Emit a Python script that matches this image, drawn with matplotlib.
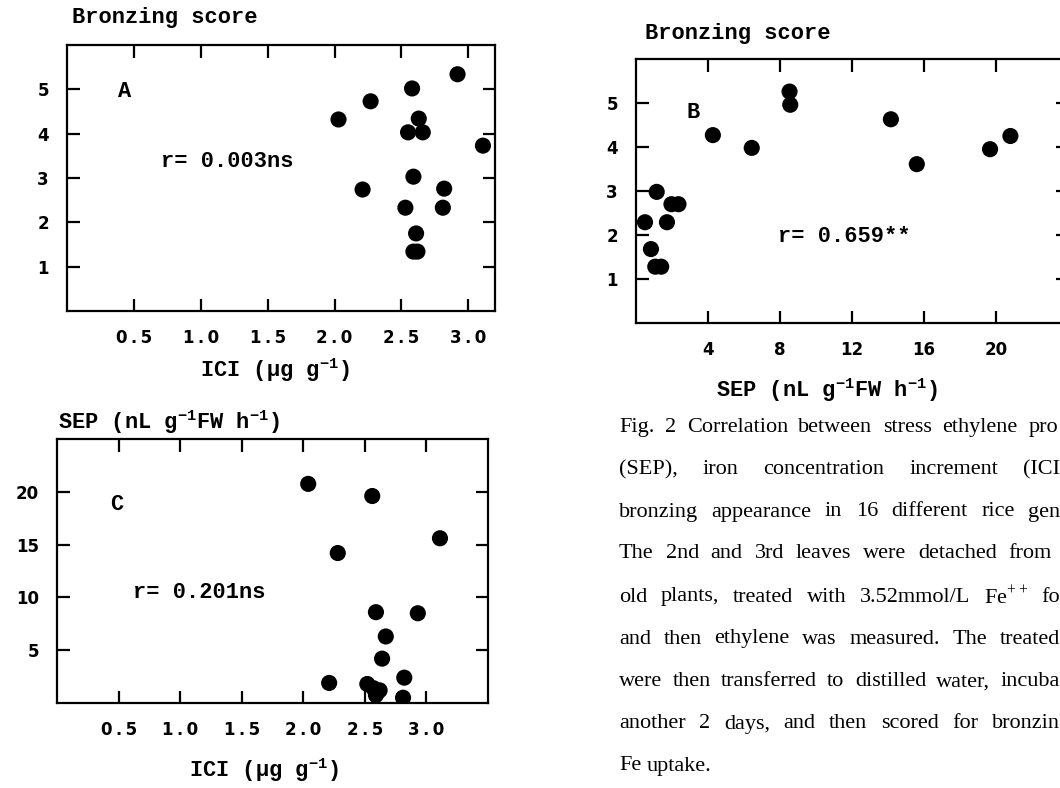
import matplotlib
matplotlib.use("Agg")
import matplotlib.pyplot as plt

# ── Data ─────────────────────────────────────────────────────────────────────
# A: bronzing score vs ICI
ici_a = [2.03, 2.27, 2.58, 2.92, 2.63, 2.55, 2.66, 3.11, 2.21, 2.59, 2.82, 2.53, 2.81, 2.61, 2.59, 2.62]
score_a = [4.32, 4.73, 5.02, 5.34, 4.34, 4.03, 4.03, 3.73, 2.74, 3.03, 2.76, 2.33, 2.33, 1.75, 1.34, 1.34]

# B: bronzing score vs SEP
sep_b = [0.5, 0.83, 1.07, 1.4, 1.15, 1.72, 1.97, 2.36, 4.27, 6.43, 8.53, 8.57, 14.16, 15.6, 19.67, 20.8]
score_b = [2.29, 1.68, 1.28, 1.28, 2.98, 2.29, 2.70, 2.70, 4.27, 3.98, 5.26, 4.96, 4.63, 3.61, 3.95, 4.25]

# C: SEP vs ICI
ici_c = [2.04, 2.56, 3.11, 2.28, 2.59, 2.93, 2.67, 2.64, 2.21, 2.82, 2.52, 2.57, 2.60, 2.59, 2.81, 2.62]
sep_c = [20.75, 19.6, 15.6, 14.2, 8.6, 8.5, 6.3, 4.2, 1.9, 2.4, 1.8, 1.4, 1.0, 0.75, 0.5, 1.2]

ici_ticks = [0.5, 1.0, 1.5, 2.0, 2.5, 3.0]
ici_ticklabels = ["0.5", "1.0", "1.5", "2.0", "2.5", "3.0"]
score_ticks = [1, 2, 3, 4, 5]
sep_ticks_b = [4, 8, 12, 16, 20]
sep_ticks_c = [5, 10, 15, 20]

caption_lines = [
    "Fig. 2  Correlation between stress ethylene pro",
    "(SEP), iron concentration increment (ICI",
    "bronzing appearance in 16 different rice gen",
    "The 2nd and 3rd leaves were detached from",
    "old plants, treated with 3.52mmol/L Fe$^{\\mathsf{++}}$ fo",
    "and then ethylene was measured. The treated",
    "were then transferred to distilled water, incuba",
    "another 2 days, and then scored for bronzin",
    "Fe uptake.",
]

# ── Style ────────────────────────────────────────────────────────────────────
plt.rcParams["mathtext.fontset"] = "custom"
plt.rcParams["mathtext.rm"] = "Liberation Mono:bold"
plt.rcParams["mathtext.sf"] = "Liberation Serif"

W, H = 1060, 788
fig = plt.figure(figsize=(W / 100, H / 100), dpi=100)

mono = dict(family="Liberation Mono", weight="bold", fontsize=15.8)
tickfont = dict(family="DejaVu Sans", weight="bold", size=12)


def spaced(s):
    return "\u2009".join(s)


def px_axes(left, top, right, bottom):
    return fig.add_axes([left / W, 1 - bottom / H, (right - left) / W, (bottom - top) / H])


def style(ax, xlim, ylim, xticks, yticks, xlabels=None):
    ax.set_xlim(*xlim)
    ax.set_ylim(*ylim)
    ax.set_xticks(xticks)
    ax.set_yticks(yticks)
    ax.set_xticklabels(xlabels if xlabels else [str(t) for t in xticks], **tickfont)
    ax.set_yticklabels([str(t) for t in yticks], **tickfont)
    ax.tick_params(direction="in", length=9, width=1.6, top=True, right=True, pad=13)
    for s in ax.spines.values():
        s.set_linewidth(1.6)


def ftext(x, y, s, **kw):
    return fig.text(x / W, 1 - y / H, s, **kw)


dot = dict(s=135, c="black", edgecolors="none", zorder=3)

# A
axA = px_axes(67, 45, 495, 311)
axA.scatter(ici_a, score_a, **dot)
style(axA, (0, 3.2), (0, 6), ici_ticks, score_ticks, [spaced(l) for l in ici_ticklabels])
axA.text(0.38, 4.95, "A", va="center", **mono)
axA.text(0.70, 3.37, "r= 0.003ns", va="center", **mono)
ftext(72, 18, "Bronzing score", va="center", **mono)
ftext(275, 370, "ICI (\u00b5g g$^{-1}$)", va="center", ha="center", **mono)

# B
axB = px_axes(636, 59, 1068, 323)
axB.scatter(sep_b, score_b, **dot)
style(axB, (0, 24), (0, 6), sep_ticks_b, score_ticks)
axB.text(2.8, 4.78, "B", va="center", **mono)
axB.text(7.9, 1.97, "r= 0.659**", va="center", **mono)
ftext(645, 33, "Bronzing score", va="center", **mono)
ftext(827, 390, "SEP (nL g$^{-1}$FW h$^{-1}$)", va="center", ha="center", **mono)

# C
axC = px_axes(57, 439, 488, 703)
axC.scatter(ici_c, sep_c, **dot)
style(axC, (0, 3.5), (0, 25), ici_ticks, sep_ticks_c, [spaced(l) for l in ici_ticklabels])
axC.text(0.43, 18.75, "C", va="center", **mono)
axC.text(0.62, 10.5, "r= 0.201ns", va="center", **mono)
ftext(58, 422, "SEP (nL g$^{-1}$FW h$^{-1}$)", va="center", **mono)
ftext(264, 770, "ICI (\u00b5g g$^{-1}$)", va="center", ha="center", **mono)

# ── Caption, justified word by word ─────────────────────────────────────────
serif = dict(family="Liberation Serif", fontsize=16, va="center", ha="left")
renderer = fig.canvas.get_renderer()
line_y = [427, 470, 512, 554, 597, 639, 682, 724, 766]
line_right = [1058, 1060, 1060, 1052, 1060, 1060, 1060, 1060, None]
x_left = 619
for text, y, right in zip(caption_lines, line_y, line_right):
    words = text.split()
    objs = [ftext(0, y, w, **serif) for w in words]
    widths = [o.get_window_extent(renderer).width for o in objs]
    if right is None:
        gap = 5
    else:
        gap = (right - x_left - sum(widths)) / (len(words) - 1)
    x = x_left
    for o, w in zip(objs, widths):
        o.set_x(x / W)
        x += w + gap

fig.savefig("out.png", dpi=100)
